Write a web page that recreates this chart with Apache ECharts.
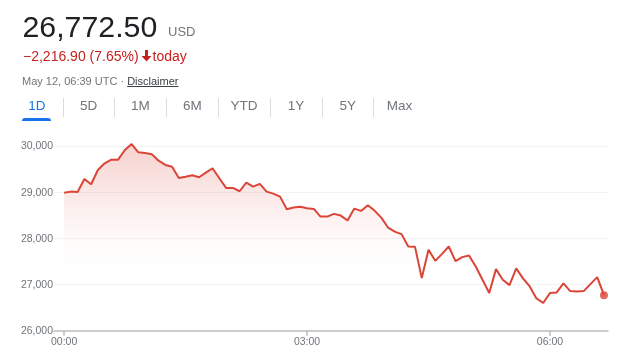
<!DOCTYPE html>
<html>
<head>
<meta charset="utf-8">
<script src="https://cdn.jsdelivr.net/npm/echarts@6/dist/echarts.min.js"></script>
<style>
  html, body { margin:0; padding:0; background:#fff; }
  body { width:622px; height:352px; position:relative; overflow:hidden; font-family:'Liberation Sans', Arial, sans-serif; }
  #chart { position:absolute; left:0; top:0; width:622px; height:352px; }
  .t { position:absolute; white-space:nowrap; }
  .tab { position:absolute; top:98.6px; width:51.8px; text-align:center; font-size:13.5px; line-height:13.5px; color:#70757a; }
  .sep { position:absolute; top:98px; width:1px; height:19px; background:#dadce0; }
</style>
</head>
<body>
<div id="chart"></div>
<div class="t" style="left:22.5px; top:11.6px; font-size:30.3px; line-height:30.3px; color:#202124;">26,772.50</div>
<div class="t" style="left:168px; top:25px; font-size:13px; line-height:13px; color:#70757a;">USD</div>
<div class="t" style="left:23px; top:49px; font-size:14px; line-height:14px; color:#c5221f;">−2,216.90 (7.65%)<svg width="11" height="12" viewBox="0 0 11 12" style="vertical-align:-1px; margin:0 1px 0 2px;"><path d="M4 0 H7 V6 H10.5 L5.5 11.5 L0.5 6 H4 Z" fill="#c5221f"/></svg>today</div>
<div class="t" style="left:22px; top:75.7px; font-size:11px; line-height:11px; color:#70757a;">May 12, 06:39 UTC · <span style="color:#3c4043; text-decoration:underline;">Disclaimer</span></div>
<div id="tabs"></div>
<div style="position:absolute; left:22px; top:117.5px; width:29px; height:3px; background:#1a73e8; border-radius:3px 3px 0 0;"></div>
<script>
// ---- data ----
const minutes = [0,5,10,15,20,25,30,35,40,45,50,55,60,65,70,75,80,85,90,95,
  100,105,110,115,120,125,130,135,140,145,150,155,160,165,170,175,180,185,190,195,
  200,205,210,215,220,225,230,235,240,245,250,255,260,265,270,275,280,285,290,295,
  300,305,310,315,320,325,330,335,340,345,350,355,360,365,370,375,380,385,390,395,400];
const prices = [28995,29022,29015,29297,29182,29492,29637,29716,29716,29926,
  30056,29876,29861,29833,29694,29601,29564,29319,29347,29377,
  29334,29434,29529,29312,29102,29102,29030,29217,29131,29189,
  29022,28979,28913,28640,28675,28693,28661,28646,28480,28480,
  28538,28501,28393,28653,28603,28726,28610,28458,28241,28154,
  28098,27829,27822,27143,27757,27518,27670,27829,27512,27599,
  27633,27395,27106,26818,27338,27106,26991,27353,27136,26962,
  26702,26601,26818,26832,27027,26861,26853,26861,27012,27164,
  26772.5];
const xTickValues = [0, 180, 360];
const xTickLabels = ['00:00', '03:00', '06:00'];
const tabLabels = ['1D','5D','1M','6M','YTD','1Y','5Y','Max'];

// ---- tabs ----
const tabs = document.getElementById('tabs');
tabLabels.forEach((lab, i) => {
  const d = document.createElement('div');
  d.className = 'tab';
  d.style.left = (11 + i * 51.8) + 'px';
  d.textContent = lab;
  if (i === 0) d.style.color = '#1a73e8';
  tabs.appendChild(d);
  if (i < tabLabels.length - 1) {
    const s = document.createElement('div');
    s.className = 'sep';
    s.style.left = (62.5 + i * 51.8) + 'px';
    tabs.appendChild(s);
  }
});

// ---- chart ----
const lineData = minutes.map((m, i) => [m, prices[i]]);
const last = lineData[lineData.length - 1];
const fmtNum = v => v.toLocaleString('en-US');
const RED = '#db4437';
const chart = echarts.init(document.getElementById('chart'), null, { renderer: 'canvas' });
chart.setOption({
  animation: false,
  backgroundColor: '#fff',
  grid: { left: 54, right: 14, top: 146.6, bottom: 21.3, outerBoundsMode: 'none', containLabel: false },
  xAxis: {
    type: 'value', min: -7.5, max: 403,
    axisLine: { show: true, lineStyle: { color: '#bdbdbd', width: 1.5 } },
    axisTick: { show: true, customValues: xTickValues, length: 5, lineStyle: { color: '#bdbdbd', width: 1.5 } },
    axisLabel: { customValues: xTickValues, formatter: v => xTickLabels[xTickValues.indexOf(v)] || '',
      color: '#70757a', fontSize: 10.5, fontFamily: 'Liberation Sans, Arial, sans-serif', margin: 6 },
    splitLine: { show: false }
  },
  yAxis: {
    type: 'value', min: 26000, max: 30000, interval: 1000,
    axisLine: { show: false }, axisTick: { show: false },
    axisLabel: { formatter: v => fmtNum(v), color: '#70757a', fontSize: 10.5,
      fontFamily: 'Liberation Sans, Arial, sans-serif', margin: 1 },
    splitLine: { show: true, lineStyle: { color: '#f3f3f3', width: 1 } }
  },
  series: [
    {
      type: 'line', data: lineData, showSymbol: false, clip: false,
      lineStyle: { color: RED, width: 2 },
      itemStyle: { color: RED },
      areaStyle: {
        color: new echarts.graphic.LinearGradient(0, 0, 0, 1, [
          { offset: 0, color: 'rgba(219,68,55,0.34)' },
          { offset: 0.3, color: 'rgba(219,68,55,0.15)' },
          { offset: 0.5, color: 'rgba(219,68,55,0.045)' },
          { offset: 0.68, color: 'rgba(219,68,55,0)' },
          { offset: 1, color: 'rgba(219,68,55,0)' }
        ])
      },
      z: 2
    },
    {
      type: 'scatter', data: [last], symbol: 'circle', symbolSize: 8, clip: false,
      itemStyle: { color: RED }, z: 3
    }
  ]
});
</script>
</body>
</html>
